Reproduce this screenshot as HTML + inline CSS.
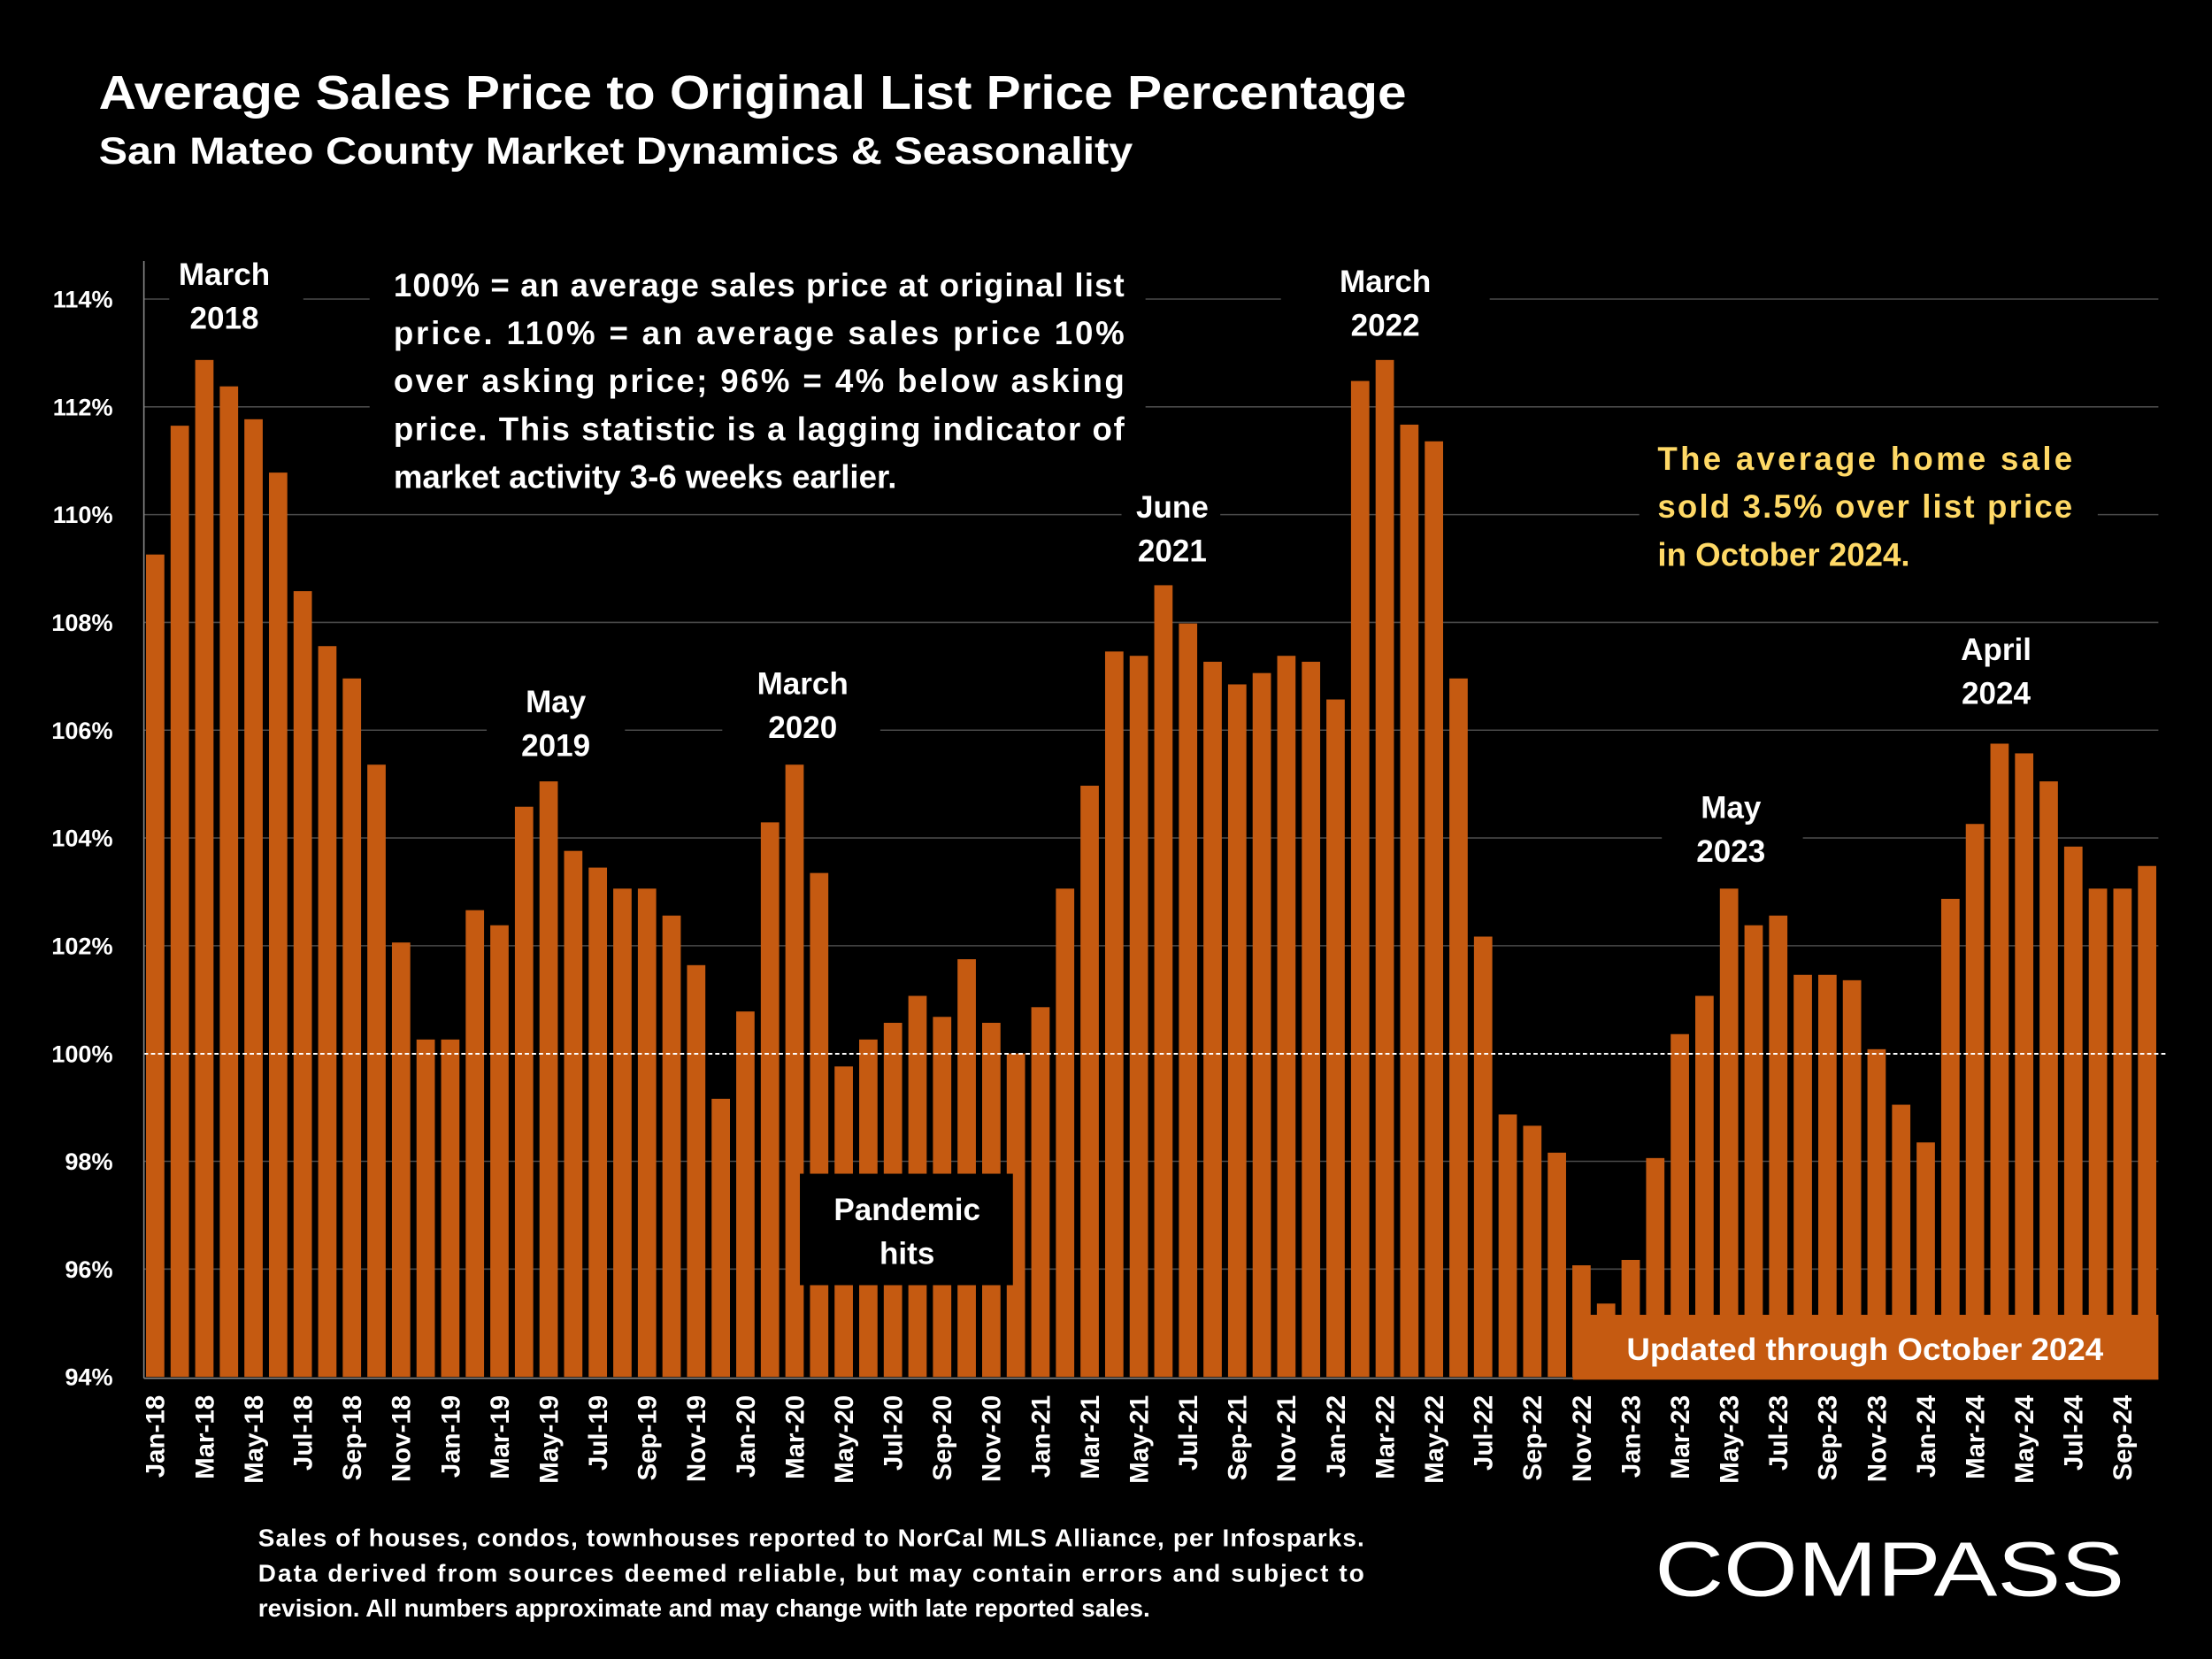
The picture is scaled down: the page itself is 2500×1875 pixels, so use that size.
<!DOCTYPE html>
<html><head><meta charset="utf-8"><style>
html,body{margin:0;padding:0;background:#000;}
svg{display:block;}
text{font-family:"Liberation Sans",sans-serif;font-weight:bold;fill:#fff;}
</style></head><body>
<svg id="chart" width="2500" height="1875" viewBox="0 0 1568 1176" xmlns="http://www.w3.org/2000/svg">
<rect width="1568" height="1176" fill="#000"/>
<text x="70" y="77" font-size="34" textLength="927" lengthAdjust="spacingAndGlyphs">Average Sales Price to Original List Price Percentage</text>
<text x="70" y="116" font-size="27" textLength="733" lengthAdjust="spacingAndGlyphs">San Mateo County Market Dynamics &amp; Seasonality</text>
<g id="grid"></g>
<g id="yticks"></g>
<g id="masks">
<rect x="262" y="185" width="550" height="170" fill="#000"/>
<rect x="120" y="178" width="95" height="62" fill="#000"/>
<rect x="908" y="183" width="148" height="62" fill="#000"/>
<rect x="345" y="482" width="98" height="62" fill="#000"/>
<rect x="512" y="468" width="112" height="62" fill="#000"/>
<rect x="1162" y="305" width="325" height="105" fill="#000"/>
<rect x="1178" y="556" width="100" height="62" fill="#000"/>
<rect x="1368" y="444" width="120" height="62" fill="#000"/>
<rect x="795" y="343" width="70" height="62" fill="#000"/>
</g>
<g id="bars"></g>
<line x1="102" y1="747" x2="1535" y2="747" stroke="#fff" stroke-width="1.2" stroke-dasharray="3,2"/>
<line x1="102" y1="185" x2="102" y2="977" stroke="#888" stroke-width="1"/>
<line x1="102" y1="977" x2="1530" y2="977" stroke="#888" stroke-width="1"/>
<g id="xticks"></g>
<rect x="567" y="832" width="151" height="79" fill="#000"/>
<text x="643" y="865" font-size="22" text-anchor="middle"><tspan x="643">Pandemic</tspan><tspan x="643" dy="31">hits</tspan></text>
<rect x="1115" y="932" width="415" height="46" fill="#C55A11"/>
<text x="1322" y="964" font-size="22" text-anchor="middle" textLength="338" lengthAdjust="spacingAndGlyphs">Updated through October 2024</text>
<g font-size="22" text-anchor="middle">
<text x="159" y="202"><tspan x="159">March</tspan><tspan x="159" dy="31">2018</tspan></text>
<text x="982" y="207"><tspan x="982">March</tspan><tspan x="982" dy="31">2022</tspan></text>
<text x="394" y="505"><tspan x="394">May</tspan><tspan x="394" dy="31">2019</tspan></text>
<text x="569" y="492"><tspan x="569">March</tspan><tspan x="569" dy="31">2020</tspan></text>
<text x="831" y="367"><tspan x="831">June</tspan><tspan x="831" dy="31">2021</tspan></text>
<text x="1227" y="580"><tspan x="1227">May</tspan><tspan x="1227" dy="31">2023</tspan></text>
<text x="1415" y="468"><tspan x="1415">April</tspan><tspan x="1415" dy="31">2024</tspan></text>
</g>
<g font-size="23">
<text x="279" y="210" textLength="518" lengthAdjust="spacing">100% = an average sales price at original list</text>
<text x="279" y="244" textLength="518" lengthAdjust="spacing">price. 110% = an average sales price 10%</text>
<text x="279" y="278" textLength="518" lengthAdjust="spacing">over asking price; 96% = 4% below asking</text>
<text x="279" y="312" textLength="518" lengthAdjust="spacing">price. This statistic is a lagging indicator of</text>
<text x="279" y="346">market activity 3-6 weeks earlier.</text>
</g>
<g font-size="23" style="fill:#FFD966">
<text x="1175" y="333" textLength="294" lengthAdjust="spacing" style="fill:#FFD966">The average home sale</text>
<text x="1175" y="367" textLength="294" lengthAdjust="spacing" style="fill:#FFD966">sold 3.5% over list price</text>
<text x="1175" y="401" style="fill:#FFD966">in October 2024.</text>
</g>
<g font-size="17.5" style="font-weight:bold">
<text x="183" y="1096" textLength="784" lengthAdjust="spacing">Sales of houses, condos, townhouses reported to NorCal MLS Alliance, per Infosparks.</text>
<text x="183" y="1121" textLength="784" lengthAdjust="spacing">Data derived from sources deemed reliable, but may contain errors and subject to</text>
<text x="183" y="1146">revision. All numbers approximate and may change with late reported sales.</text>
</g>
<text x="1173" y="1131" font-size="55" textLength="333" lengthAdjust="spacingAndGlyphs" style="font-weight:normal">COMPASS</text>
</svg>
<script>
const categoriesStart = {year: 2018, month: 0};
const monthNames = ["Jan","Feb","Mar","Apr","May","Jun","Jul","Aug","Sep","Oct","Nov","Dec"];
const values = [109.26,111.65,112.87,112.38,111.77,110.78,108.58,107.56,106.96,105.36,102.06,100.26,
100.26,102.66,102.38,104.58,105.05,103.76,103.45,103.06,103.06,102.56,101.64,99.16,
100.78,104.29,105.36,103.35,99.76,100.26,100.57,101.07,100.68,101.75,100.57,100.0,
100.86,103.06,104.97,107.46,107.38,108.69,107.98,107.27,106.85,107.06,107.38,107.27,
106.57,112.48,112.87,111.67,111.36,106.96,102.17,98.87,98.66,98.16,96.07,95.36,
96.17,98.06,100.36,101.07,103.06,102.38,102.56,101.46,101.46,101.36,100.08,99.05,
98.35,102.87,104.26,105.75,105.57,105.05,103.84,103.06,103.06,103.48];
const yTicks = [94,96,98,100,102,104,106,108,110,112,114];
const categories = values.map((v,i)=>{const m=(categoriesStart.month+i)%12;const y=categoriesStart.year+Math.floor(i/12);return monthNames[m]+"-"+String(y).slice(2);});

const NS="http://www.w3.org/2000/svg";
const yMin=94,yMax=114,yTop=212,yBot=976;
function yScale(v){return yBot-(v-yMin)/(yMax-yMin)*(yBot-yTop);}
const x0=110,step=(1522-110)/81;
function xScale(i){return x0+i*step;}
const grid=document.getElementById('grid'),yt=document.getElementById('yticks'),bars=document.getElementById('bars'),xt=document.getElementById('xticks');
yTicks.forEach(t=>{
  if(t!==94 && t!==100){
  const l=document.createElementNS(NS,'line');
  
  
  l.setAttribute('x1',102);l.setAttribute('x2',1530);l.setAttribute('y1',yScale(t));l.setAttribute('y2',yScale(t));
  l.setAttribute('stroke','#4a4a4a');l.setAttribute('stroke-width','1');grid.appendChild(l);}
  const tx=document.createElementNS(NS,'text');
  
  
  tx.setAttribute('x',80);tx.setAttribute('y',yScale(t)+6);tx.setAttribute('text-anchor','end');tx.setAttribute('font-size','17');
  tx.textContent=t+'%';yt.appendChild(tx);
});
const bw=13;
values.forEach((v,i)=>{
  const r=document.createElementNS(NS,'rect');
  
  
  const y=yScale(v);
  r.setAttribute('x',xScale(i)-bw/2);r.setAttribute('y',y);r.setAttribute('width',bw);r.setAttribute('height',yBot-y);
  r.setAttribute('fill','#C55A11');bars.appendChild(r);
  if(i%2===0){
    const t=document.createElementNS(NS,'text');
    
    
    const x=xScale(i)+6.5,yy=989;
    t.setAttribute('x',x);t.setAttribute('y',yy);t.setAttribute('text-anchor','end');t.setAttribute('font-size','18.5');
    t.setAttribute('transform','rotate(-90 '+x+' '+yy+')');
    t.textContent=categories[i];xt.appendChild(t);
  }
});
</script>
</body></html>
